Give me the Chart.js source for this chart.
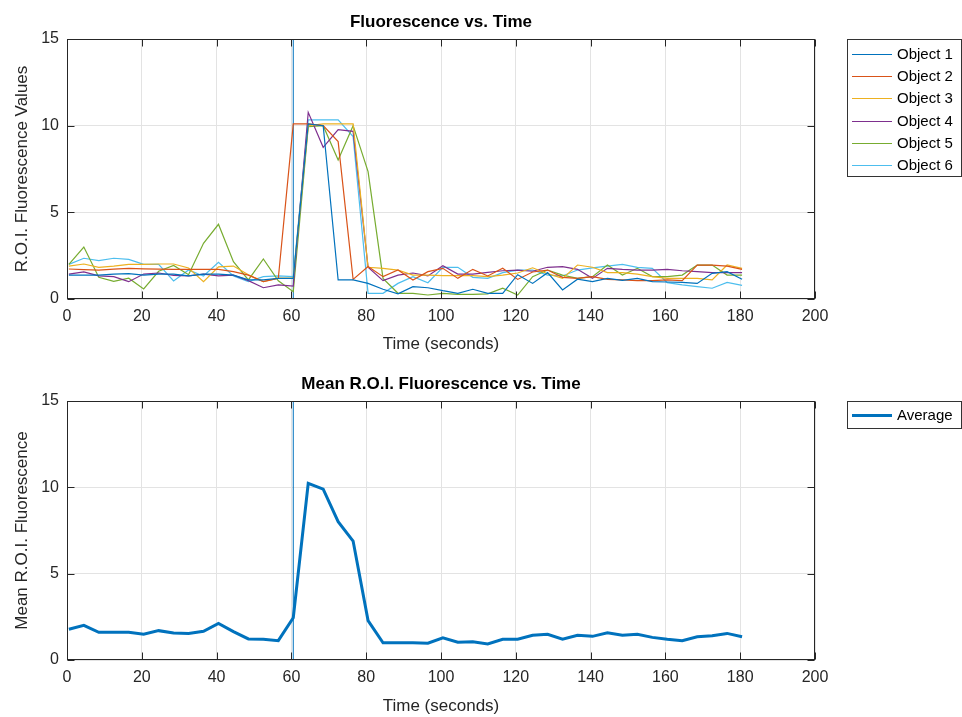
<!DOCTYPE html>
<html>
<head>
<meta charset="utf-8">
<script src="https://cdn.jsdelivr.net/npm/chart.js@4"></script>
<style>
  body { margin: 0; background: #fff; }
  .plot { position: absolute; left: 0; }
</style>
</head>
<body>
<div class="plot" style="top:0"><canvas id="topChart" width="962" height="358"></canvas></div>
<div class="plot" style="top:358px"><canvas id="meanChart" width="962" height="359"></canvas></div>
<script>
// --- Fluorescence traces (sampled every 4 s) ---

const times = [0.5, 4.5, 8.5, 12.5, 16.5, 20.5, 24.5, 28.5, 32.5, 36.5, 40.5, 44.5, 48.5, 52.5, 56.5, 60.5,
    64.5, 68.5, 72.5, 76.5, 80.5, 84.5, 88.5, 92.5, 96.5, 100.5, 104.5, 108.5, 112.5, 116.5, 120.5,
    124.5, 128.5, 132.5, 136.5, 140.5, 144.5, 148.5, 152.5, 156.5, 160.5, 164.5, 168.5, 172.5, 176.5, 180.5];

const stimTime = 60.5;

const object1 = [1.38, 1.38, 1.38, 1.44, 1.46, 1.38, 1.44, 1.44, 1.33, 1.44, 1.44, 1.38, 1.10, 1.10, 1.19, 1.19,
    10.1, 10.0, 1.1, 1.1, 0.9, 0.56, 0.3, 0.71, 0.65, 0.48, 0.33, 0.56, 0.33, 0.33, 1.4,
    0.9, 1.52, 0.52, 1.14, 1.0, 1.19, 1.07, 1.19, 1.0, 0.98, 0.96, 0.9, 1.48, 1.58, 1.14];
const object2 = [1.73, 1.70, 1.67, 1.72, 1.77, 1.74, 1.72, 1.71, 1.71, 1.71, 1.71, 1.58, 1.38, 1.0, 1.19, 10.1,
    10.1, 10.0, 9.08, 1.13, 1.87, 1.29, 1.67, 1.1, 1.58, 1.77, 1.19, 1.71, 1.33, 1.77, 1.13,
    1.56, 1.67, 1.25, 1.19, 1.29, 1.13, 1.1, 1.06, 1.06, 1.1, 1.06, 1.96, 1.96, 1.9, 1.71];
const object3 = [1.9, 2.02, 1.83, 1.9, 2.0, 2.0, 2.02, 2.02, 1.79, 1.0, 1.85, 1.9, 1.4, 1.0, 1.2, 1.2,
    10.0, 10.1, 10.1, 10.1, 1.83, 1.77, 1.67, 1.38, 1.38, 1.35, 1.35, 1.35, 1.29, 1.38, 1.5,
    1.8, 1.46, 1.19, 1.96, 1.83, 1.52, 1.52, 1.44, 1.29, 1.19, 1.19, 1.19, 1.1, 1.96, 1.77];
const object4 = [1.44, 1.56, 1.33, 1.29, 1.0, 1.44, 1.5, 1.36, 1.33, 1.44, 1.33, 1.38, 1.06, 0.65, 0.81, 0.75,
    10.77, 8.75, 9.77, 9.67, 1.83, 1.06, 1.38, 1.5, 1.33, 1.92, 1.44, 1.44, 1.54, 1.63, 1.67,
    1.6, 1.83, 1.87, 1.71, 1.19, 1.77, 1.71, 1.67, 1.67, 1.71, 1.63, 1.58, 1.52, 1.52, 1.52];
const object5 = [2.0, 3.0, 1.25, 1.02, 1.2, 0.58, 1.6, 1.94, 1.4, 3.21, 4.31, 2.15, 1.1, 2.31, 1.05, 0.42,
    9.94, 10.0, 8.02, 10.0, 7.35, 1.19, 0.33, 0.33, 0.23, 0.33, 0.27, 0.27, 0.3, 0.62, 0.23,
    1.29, 1.67, 1.38, 1.19, 1.29, 1.96, 1.38, 1.77, 1.29, 1.29, 1.38, 1.96, 1.96, 1.38, 1.38];
const object6 = [2.0, 2.35, 2.21, 2.35, 2.29, 2.0, 2.0, 1.04, 1.67, 1.33, 2.12, 1.33, 1.0, 1.29, 1.33, 1.29,
    10.33, 10.33, 10.33, 9.37, 0.33, 0.33, 0.9, 1.29, 0.94, 1.83, 1.83, 1.25, 1.19, 1.52, 1.67,
    1.67, 1.38, 1.33, 1.67, 1.8, 1.9, 2.0, 1.83, 1.77, 0.94, 0.81, 0.71, 0.62, 0.96, 0.79];

const average = [1.78, 2.01, 1.60, 1.60, 1.60, 1.49, 1.70, 1.56, 1.54, 1.66, 2.12, 1.64, 1.22, 1.20, 1.12, 2.45,
    10.23, 9.90, 8.01, 6.89, 2.28, 1.00, 1.00, 1.00, 0.97, 1.29, 1.03, 1.05, 0.93, 1.20, 1.20,
    1.43, 1.49, 1.20, 1.43, 1.37, 1.58, 1.43, 1.49, 1.31, 1.20, 1.12, 1.35, 1.40, 1.54, 1.35];

const objectLabels = ['Object 1', 'Object 2', 'Object 3', 'Object 4', 'Object 5', 'Object 6'];
const objectSeries = [object1, object2, object3, object4, object5, object6];
const objectColors = ['#0072BD', '#D95319', '#EDB120', '#7E2F8E', '#77AC30', '#4DBEEE'];

const xTicks = { min: 0, max: 200, step: 20 };
const yTicks = { min: 0, max: 15, step: 5 };

const FONT = "'Liberation Sans', Arial, Helvetica, sans-serif";
Chart.defaults.font.family = FONT;
Chart.defaults.color = '#262626';

function toPoints(vals) {
    return vals.map((v, i) => ({ x: times[i], y: v }));
}

function stimDataset() {
    return {
        label: 'stim',
        data: [{ x: stimTime, y: yTicks.min }, { x: stimTime, y: yTicks.max }],
        borderColor: '#0072BD',
        borderWidth: 1,
        pointRadius: 0,
        noLegend: true,
        order: 10
    };
}

// MATLAB-style box, inward ticks and legend box
const axesBox = {
    id: 'axesBox',
    afterDraw(chart, args, opts) {
        const { ctx, chartArea: a, scales: { x, y } } = chart;
        ctx.save();
        ctx.strokeStyle = '#262626';
        ctx.lineWidth = 1;
        const L = Math.round(a.left) + 0.5, R = Math.round(a.right) - 0.5;
        const T = Math.round(a.top) + 0.5, B = Math.round(a.bottom) - 0.5;
        ctx.strokeRect(L, T, R - L, B - T);
        ctx.beginPath();
        x.ticks.forEach(t => {
            const px = Math.round(x.getPixelForValue(t.value)) + 0.5;
            ctx.moveTo(px, B); ctx.lineTo(px, B - 7);
            ctx.moveTo(px, T); ctx.lineTo(px, T + 7);
        });
        y.ticks.forEach(t => {
            const py = Math.round(y.getPixelForValue(t.value)) + 0.5;
            ctx.moveTo(L, py); ctx.lineTo(L + 7, py);
            ctx.moveTo(R, py); ctx.lineTo(R - 7, py);
        });
        ctx.stroke();

        // legend
        const items = chart.data.datasets.filter(d => !d.noLegend);
        const lg = opts.legend;
        const h = lg.padTop + lg.padBottom + lg.rowH * (items.length - 1);
        ctx.fillStyle = '#fff';
        ctx.fillRect(lg.x, lg.y, lg.w, h);
        ctx.strokeStyle = '#333';
        ctx.lineWidth = 1;
        ctx.strokeRect(lg.x + 0.5, lg.y + 0.5, lg.w - 1, h - 1);
        ctx.font = '15px ' + FONT;
        ctx.textBaseline = 'middle';
        items.forEach((d, i) => {
            const cy = Math.round(lg.y + lg.padTop + i * lg.rowH) + 0.5;
            ctx.strokeStyle = d.borderColor;
            ctx.lineWidth = d.borderWidth;
            ctx.beginPath();
            ctx.moveTo(lg.x + 5, cy);
            ctx.lineTo(lg.x + 45, cy);
            ctx.stroke();
            ctx.fillStyle = '#000';
            ctx.fillText(d.label, lg.x + 50, cy);
        });
        ctx.restore();
    }
};

function makeOptions(title, yTitle, cfg) {
    return {
        responsive: false,
        animation: false,
        devicePixelRatio: 1,
        layout: { padding: { left: 0, right: 147, top: 0, bottom: 0 } },
        scales: {
            x: {
                type: 'linear',
                min: xTicks.min, max: xTicks.max,
                afterFit: s => { s.height = cfg.xHeight; },
                ticks: { stepSize: xTicks.step, padding: 8, font: { size: 16 }, maxRotation: 0 },
                grid: { color: '#e3e3e3', drawTicks: false },
                border: { display: false },
                title: { display: true, text: 'Time (seconds)', font: { size: 17 }, padding: { top: 0, bottom: cfg.xTitlePad } }
            },
            y: {
                min: yTicks.min, max: yTicks.max,
                afterFit: s => { s.width = 67; },
                ticks: { stepSize: yTicks.step, padding: 8, font: { size: 16 } },
                grid: { color: '#e3e3e3', drawTicks: false },
                border: { display: false },
                title: { display: true, text: yTitle, font: { size: 17 }, padding: { top: 12, bottom: 0 } }
            }
        },
        plugins: {
            legend: { display: false },
            tooltip: { enabled: false },
            title: {
                display: true, text: title, color: '#000',
                fullSize: false,
                font: { size: 17, weight: 'bold' },
                padding: { top: cfg.titleTop, bottom: cfg.titleBottom }
            },
            axesBox: { legend: cfg.legend }
        }
    };
}

const objectDatasets = objectSeries.map((vals, i) => ({
    label: objectLabels[i],
    data: toPoints(vals),
    borderColor: objectColors[i],
    borderWidth: 1.2,
    pointRadius: 0,
    tension: 0,
    fill: false,
    order: i
}));

new Chart(document.getElementById('topChart'), {
    type: 'line',
    data: { datasets: [stimDataset(), ...objectDatasets] },
    options: makeOptions('Fluorescence vs. Time', 'R.O.I. Fluorescence Values', {
        xHeight: 59, xTitlePad: 3, titleTop: 12, titleBottom: 6.6,
        legend: { x: 847, y: 39, w: 115, rowH: 22.2, padTop: 15, padBottom: 12 }
    }),
    plugins: [axesBox]
});

new Chart(document.getElementById('meanChart'), {
    type: 'line',
    data: {
        datasets: [stimDataset(), {
            label: 'Average',
            data: toPoints(average),
            borderColor: '#0072BD',
            borderWidth: 3,
            pointRadius: 0,
            tension: 0,
            fill: false,
            order: 0
        }]
    },
    options: makeOptions('Mean R.O.I. Fluorescence vs. Time', 'Mean R.O.I. Fluorescence', {
        xHeight: 57, xTitlePad: 0, titleTop: 16, titleBottom: 6.6,
        legend: { x: 847, y: 43, w: 115, rowH: 22, padTop: 14, padBottom: 14 }
    }),
    plugins: [axesBox]
});
</script>
</body>
</html>
